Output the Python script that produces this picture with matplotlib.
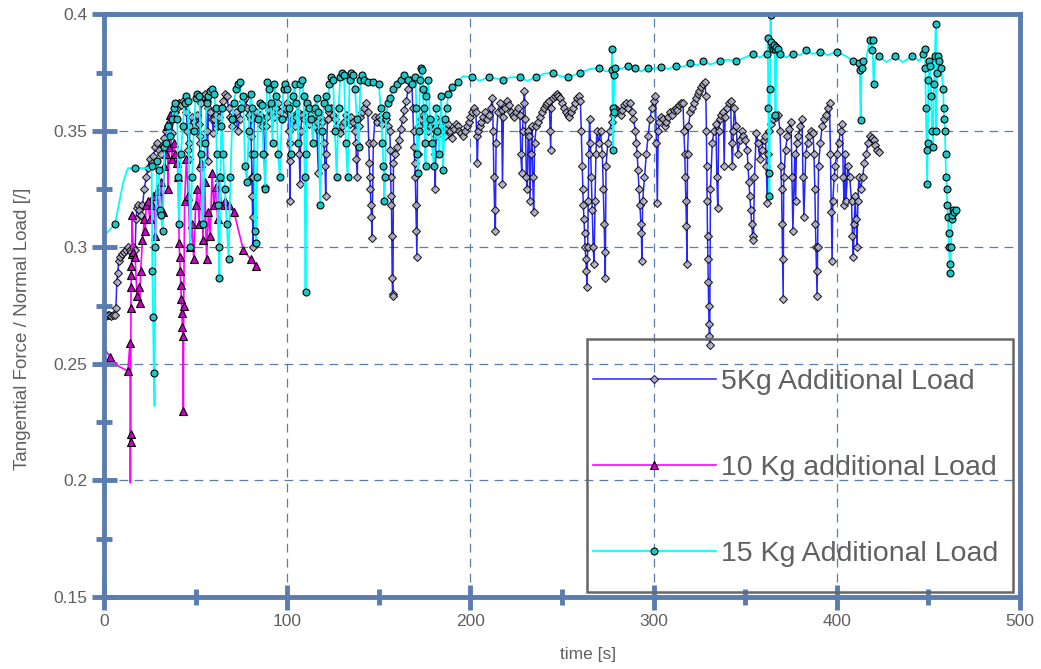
import matplotlib.pyplot as plt
from matplotlib.patches import Rectangle

plt.rcParams['font.family'] = ['Liberation Sans', 'DejaVu Sans']

# 5Kg Additional Load (blue, diamonds)
t5 = [0, 1, 2, 3, 4, 5, 6, 6.5, 7, 7.5,
      8, 9, 10, 11, 12, 13, 14, 15, 16, 17,
      17.5, 18, 18.5, 19, 20, 21, 22, 23, 24, 25,
      26, 27, 28, 29, 30, 31, 32, 33, 34, 35,
      36, 37, 38, 39, 40, 41, 42, 43, 44, 45,
      45.5, 46, 46.3, 46.6, 47, 48, 49, 50, 51, 52,
      52.2, 52.4, 52.6, 53, 54, 55, 56, 56.2, 56.5, 57,
      58, 59, 59.6, 60, 61, 62, 63, 64, 65, 66,
      67, 68, 69, 70, 71, 72, 73, 74, 75, 76,
      77, 78, 79, 80, 80.3, 80.5, 80.7, 80.9, 81.1, 81.3,
      81.5, 82, 83, 84, 85, 86, 87, 87.6, 88, 88.4,
      89, 90, 91, 92, 93, 94, 95, 96, 97, 98,
      99, 100, 101, 101.3, 101.5, 101.7, 102, 103, 104, 105,
      106, 106.6, 107, 107.4, 108, 109, 110, 111, 112, 113,
      114, 115, 116, 117, 117.4, 118, 119, 120, 120.6, 121,
      121.4, 122, 123, 124, 125, 126, 127, 128, 129, 130,
      131, 132, 133, 134, 135, 136, 137, 137.4, 137.8, 138.2,
      139, 140, 141, 142, 143, 144, 144.5, 144.8, 145.1, 145.4,
      145.7, 146, 146.3, 147, 148, 149, 150, 151, 152, 153,
      154, 155, 156, 156.3, 156.5, 156.7, 156.9, 157.1, 157.3, 157.5,
      157.7, 158, 159, 160, 161, 162, 163, 164, 165, 166,
      167, 168, 168.5, 169, 169.3, 169.6, 169.9, 170.2, 170.5, 170.8,
      171.2, 172, 173, 174, 175, 176, 177, 178, 179, 180,
      180.4, 180.8, 181.2, 182, 183, 184, 185, 186, 187, 188,
      189, 190, 191, 192, 193, 194, 195, 196, 197, 198,
      199, 200, 201, 202, 203, 203.4, 203.8, 204.2, 205, 206,
      207, 208, 209, 210, 211, 212, 212.4, 212.8, 213.2, 213.6,
      214, 215, 216, 217, 217.5, 218, 219, 220, 221, 222,
      223, 224, 225, 226, 227, 227.5, 228, 228.5, 229, 229.5,
      230, 230.5, 231, 231.5, 232, 232.5, 233, 233.5, 234, 234.5,
      235, 236, 237, 238, 239, 240, 241, 242, 243, 243.5,
      243.8, 244.2, 245, 246, 247, 248, 249, 250, 251, 252,
      253, 254, 255, 256, 257, 258, 259, 260, 260.5, 261,
      261.3, 261.6, 262, 262.3, 262.6, 263, 263.3, 263.6, 264, 264.3,
      264.6, 265, 265.5, 266, 266.5, 267, 267.5, 268, 268.5, 269,
      270, 271, 272, 272.5, 273, 273.3, 273.6, 274, 275, 276,
      277, 278, 279, 280, 281, 282, 283, 284, 285, 286,
      287, 288, 289, 290, 290.5, 291, 291.5, 292, 292.5, 293,
      293.3, 293.6, 294, 295, 296, 297, 298, 299, 300, 301,
      301.5, 302, 302.5, 303, 304, 305, 306, 307, 308, 309,
      310, 311, 312, 313, 314, 315, 316, 316.5, 317, 317.3,
      317.6, 317.9, 318.2, 318.5, 319, 320, 321, 322, 323, 324,
      325, 326, 327, 328, 328.5, 328.8, 329, 329.2, 329.4, 329.6,
      329.8, 330, 330.2, 330.4, 330.6, 331, 332, 333, 334, 334.5,
      335, 335.5, 336, 337, 338, 338.5, 339, 340, 341, 342,
      342.5, 343, 343.5, 344, 345, 346, 347, 348, 349, 350,
      351, 351.5, 352, 352.5, 353, 353.5, 354, 354.5, 355, 356,
      357, 358, 359, 360, 361, 361.5, 362, 362.5, 363, 364,
      365, 366, 367, 368, 369, 369.5, 369.8, 370.1, 370.4, 370.7,
      371, 372, 373, 374, 375, 375.5, 376, 377, 377.5, 378,
      379, 380, 381, 381.5, 382, 383, 384, 385, 386, 387,
      387.5, 388, 388.3, 388.6, 388.9, 389.2, 389.5, 390, 391, 392,
      393, 394, 395, 396, 396.5, 397, 397.4, 397.8, 398.5, 399,
      400, 401, 402, 403, 403.5, 404, 404.5, 405, 406, 407,
      408, 408.5, 409, 409.5, 410, 410.5, 411, 411.5, 412, 413,
      414, 415, 416, 417, 418, 419, 420, 421, 422, 423]
f5 = [.271, .2705, .271, .271, .2705, .271, .271, .274, .285, .289,
      .294, .296, .297, .298, .299, .300, .299, .298, .300, .299,
      .312, .317, .318, .316, .314, .318, .325, .330, .334, .338,
      .336, .339, .343, .345, .342, .340, .344, .347, .350, .352,
      .354, .349, .356, .358, .360, .362, .361, .363, .362, .358,
      .350, .342, .338, .345, .352, .356, .354, .352, .357, .353,
      .345, .334, .348, .362, .365, .366, .363, .350, .337, .360,
      .358, .355, .349, .355, .357, .352, .356, .360, .363, .366,
      .365, .360, .356, .352, .355, .358, .350, .355, .360, .363,
      .364, .360, .357, .355, .348, .340, .330, .322, .313, .300,
      .330, .356, .358, .355, .357, .352, .355, .340, .326, .352,
      .356, .359, .361, .358, .356, .360, .362, .358, .355, .357,
      .360, .362, .350, .337, .320, .345, .357, .355, .352, .356,
      .358, .340, .327, .350, .357, .355, .358, .356, .353, .357,
      .355, .352, .354, .332, .350, .356, .354, .345, .335, .322,
      .340, .355, .358, .360, .357, .355, .352, .350, .349, .352,
      .354, .357, .355, .353, .356, .354, .350, .345, .338, .330,
      .352, .356, .358, .360, .362, .358, .345, .336, .330, .325,
      .318, .313, .304, .345, .356, .354, .356, .355, .353, .356,
      .355, .352, .350, .342, .330, .322, .318, .305, .287, .280,
      .279, .336, .340, .343, .346, .351, .355, .359, .363, .368,
      .372, .371, .360, .350, .343, .336, .330, .318, .307, .296,
      .340, .352, .355, .357, .356, .353, .350, .352, .354, .351,
      .340, .325, .348, .355, .354, .352, .350, .348, .351, .353,
      .350, .347, .351, .353, .352, .350, .349, .348, .350, .352,
      .354, .356, .358, .360, .358, .348, .336, .350, .352, .354,
      .356, .358, .355, .357, .360, .364, .350, .330, .316, .307,
      .345, .358, .362, .359, .327, .356, .360, .363, .361, .358,
      .357, .356, .358, .360, .357, .340, .332, .350, .362, .367,
      .355, .330, .325, .350, .348, .320, .340, .352, .330, .315,
      .345, .352, .354, .356, .358, .360, .361, .362, .363, .350,
      .342, .360, .364, .365, .366, .365, .364, .362, .360, .358,
      .357, .356, .358, .360, .362, .364, .365, .363, .350, .335,
      .325, .318, .312, .306, .300, .295, .290, .283, .300, .320,
      .340, .355, .345, .330, .316, .300, .293, .320, .340, .350,
      .345, .350, .340, .325, .310, .298, .287, .335, .345, .350,
      .354, .357, .360, .359, .358, .357, .359, .361, .362, .360,
      .362, .358, .355, .350, .345, .340, .333, .325, .318, .310,
      .306, .294, .320, .330, .340, .348, .355, .360, .363, .365,
      .345, .319, .350, .354, .356, .355, .352, .354, .356, .358,
      .357, .359, .360, .359, .361, .362, .362, .350, .340, .330,
      .320, .309, .293, .340, .352, .358, .360, .362, .364, .366,
      .367, .369, .370, .371, .365, .350, .335, .320, .305, .295,
      .285, .275, .267, .262, .258, .325, .345, .350, .353, .330,
      .317, .350, .355, .357, .358, .335, .356, .360, .362, .363,
      .345, .335, .350, .360, .352, .340, .346, .350, .348, .346,
      .342, .335, .328, .322, .316, .310, .305, .303, .330, .349,
      .345, .338, .342, .346, .348, .335, .319, .340, .350, .353,
      .355, .357, .356, .357, .350, .335, .325, .310, .295, .278,
      .330, .342, .348, .351, .354, .330, .307, .340, .320, .345,
      .348, .352, .355, .330, .313, .340, .345, .348, .350, .349,
      .340, .325, .310, .300, .290, .279, .300, .335, .345, .352,
      .355, .357, .360, .362, .340, .315, .294, .320, .330, .335,
      .340, .345, .350, .353, .330, .318, .340, .320, .335, .330,
      .320, .305, .296, .310, .322, .312, .300, .320, .330, .325,
      .330, .336, .340, .345, .348, .347, .346, .344, .342, .341]

# 10 Kg additional Load (magenta, triangles)
t10 = [0, 3.3, 8, 13, 14.2, 14.4, 14.5, 14.6, 14.7, 14.8,
       14.9, 15.0, 15.1, 15.3, 16, 17, 18, 19, 19.5, 20,
       21, 22, 22.5, 23, 24, 25, 26, 27, 28, 29,
       30, 31, 32, 33, 34, 34.5, 35, 35.5, 36, 37,
       38, 39, 40, 40.5, 41, 41.3, 41.6, 41.9, 42.2, 42.5,
       42.8, 43.1, 43.3, 43.5, 44, 45, 46, 47, 48, 49,
       50, 51, 52, 53, 54, 55, 56, 57, 58, 59,
       60, 61, 62, 63, 64, 66, 68, 71, 76, 80,
       83]
f10 = [.257, .253, .249, .247, .259, .199, .2165, .220, .274, .283,
       .288, .292, .297, .314, .298, .296, .279, .283, .276, .290,
       .303, .312, .307, .318, .320, .312, .318, .322, .305, .324,
       .316, .328, .315, .335, .340, .352, .325, .343, .357, .338,
       .345, .340, .336, .330, .302, .296, .290, .284, .278, .272,
       .266, .262, .230, .275, .320, .338, .322, .300, .310, .295,
       .318, .325, .310, .336, .303, .328, .295, .315, .305, .332,
       .318, .326, .312, .330, .318, .320, .318, .315, .299, .295,
       .292]
t10_plain = [0, 8, 14.4]   # line-only samples (no marker)

# 15 Kg Additional Load (cyan, circles)
t15 = [0, 6, 10.5, 13, 17, 24, 26, 26.4, 26.8, 27.2,
       27.6, 28, 29, 30, 30.5, 31, 32, 33, 34, 35,
       36, 37, 38, 39, 40, 40.5, 41, 42, 43, 44,
       45, 46, 47, 48, 49, 50, 51, 52, 53, 54,
       55, 56, 57, 58, 59, 60, 61, 61.5, 62, 62.5,
       63, 63.5, 64, 64.5, 65, 66, 67, 68, 69, 70,
       71, 72, 73, 74, 75, 76, 77, 78, 79, 80,
       81, 82, 82.5, 83, 83.5, 84, 85, 86, 87, 88,
       89, 90, 91, 92, 93, 94, 95, 96, 97, 98,
       99, 100, 101, 102, 103, 104, 105, 106, 107, 108,
       109, 109.5, 110, 110.5, 111, 112, 113, 114, 115, 116,
       117, 118, 119, 120, 121, 122, 123, 124, 125, 126,
       127, 128, 129, 130, 131, 132, 133, 134, 135, 136,
       137, 138, 139, 140, 141, 142, 144, 147, 150, 151,
       152, 152.5, 153, 153.5, 154, 155, 156, 158, 160, 162,
       164, 166, 168, 170, 170.5, 171, 171.5, 172, 172.5, 173,
       173.5, 174, 174.5, 175, 175.5, 176, 177, 178, 179, 180,
       181, 182, 183, 184, 185, 186, 187, 188, 190, 193,
       196, 201, 205, 210, 214, 218, 222, 227, 231, 236,
       240, 245, 249, 253, 257, 260, 265, 270, 274, 277,
       277.3, 277.6, 277.9, 278.2, 278.5, 279, 282, 286, 290, 293,
       297, 300, 304, 308, 312, 316, 320, 324, 327, 331,
       336, 340, 345, 350, 354, 358, 361, 362, 362.3, 362.6,
       362.9, 363.2, 363.5, 363.8, 364.1, 364.5, 365, 365.5, 366, 366.5,
       367, 368, 369, 372, 376, 380, 383, 387, 391, 395,
       400, 405, 409, 412, 412.5, 413, 413.5, 414, 416, 418,
       419, 419.5, 420, 421, 423, 427, 432, 436, 441, 445,
       447, 448, 448.3, 448.6, 449, 449.3, 449.6, 450, 450.5, 451,
       451.5, 452, 452.5, 453, 453.5, 454, 454.3, 454.6, 455, 456,
       457, 458, 458.3, 458.6, 459, 459.3, 459.6, 460, 460.3, 460.6,
       461, 461.3, 461.6, 462, 462.3, 462.6, 463, 463.5, 464, 465]
f15 = [.305, .310, .328, .334, .334, .334, .335, .290, .270, .246,
       .232, .300, .337, .333, .316, .314, .307, .343, .345, .352,
       .348, .355, .360, .362, .355, .330, .310, .340, .352, .362,
       .365, .363, .300, .330, .350, .364, .366, .365, .340, .310,
       .345, .362, .365, .367, .368, .366, .360, .340, .318, .300,
       .287, .330, .352, .360, .340, .325, .310, .295, .330, .355,
       .362, .368, .370, .371, .360, .365, .335, .328, .350, .366,
       .360, .340, .307, .302, .330, .355, .362, .361, .340, .325,
       .371, .368, .362, .345, .370, .365, .340, .330, .355, .368,
       .370, .368, .360, .340, .365, .370, .362, .345, .370, .372,
       .365, .330, .281, .340, .362, .360, .355, .345, .360, .364,
       .358, .318, .350, .362, .365, .360, .370, .373, .372, .350,
       .330, .360, .373, .375, .374, .345, .330, .372, .375, .374,
       .368, .355, .343, .372, .374, .372, .371, .371, .370, .360,
       .345, .335, .320, .330, .357, .362, .364, .368, .370, .372,
       .374, .372, .370, .373, .360, .340, .332, .350, .372, .377,
       .376, .368, .360, .345, .335, .365, .372, .355, .345, .335,
       .360, .350, .340, .365, .333, .355, .360, .366, .369, .371,
       .3735, .373, .3715, .373, .3725, .372, .373, .373, .3715, .373,
       .3745, .375, .3735, .373, .374, .375, .3765, .377, .3755, .376,
       .385, .360, .342, .358, .374, .377, .3765, .378, .377, .3755,
       .377, .3765, .3775, .3765, .378, .3775, .379, .378, .380, .3785,
       .380, .3805, .380, .3815, .383, .3815, .383, .383, .390, .360,
       .332, .322, .368, .3995, .388, .386, .385, .387, .385, .357,
       .386, .385, .383, .3815, .383, .3825, .3845, .383, .384, .3825,
       .384, .382, .380, .379, .376, .3545, .377, .380, .381, .389,
       .3845, .389, .370, .381, .382, .3795, .382, .3795, .382, .380,
       .383, .385, .377, .360, .342, .327, .345, .372, .380, .378,
       .365, .350, .343, .370, .382, .396, .350, .375, .382, .380,
       .377, .368, .360, .355, .350, .340, .330, .325, .318, .313,
       .306, .300, .293, .289, .300, .312, .314, .316, .315, .316]
# line-only samples (no marker)
t15_plain = [0, 10.5, 13, 24, 27.6, 196, 205, 214, 222, 231, 240, 249, 257, 265,
             274, 282, 293, 300, 308, 316, 324, 331, 340, 350, 358, 361, 372,
             380, 387, 395, 405, 416, 421, 427, 436, 445]

labels = ['5Kg Additional Load', '10 Kg additional Load', '15 Kg Additional Load']

axis_col = '#5a7db0'
text_col = '#606060'

mk10 = [i for i, t in enumerate(t10) if t not in t10_plain]
mk15 = [i for i, t in enumerate(t15) if t not in t15_plain]

fig = plt.figure(figsize=(10.41, 6.69), dpi=100)
ax = fig.add_axes([0.0999, 0.1076, 0.880, 0.871])

l1, = ax.plot(t5, f5, color='#0000ff', lw=1.1, alpha=0.85,
              marker='D', ms=3.8, mfc=(0.7, 0.7, 0.78, 0.5), mec=(0, 0, 0, 0.8), mew=0.8)
l2, = ax.plot(t10, f10, color='#ff00ff', lw=1.2, markevery=mk10,
              marker='^', ms=6, mfc='#cc00cc', mec='black', mew=0.8)
l3, = ax.plot(t15, f15, color='#00ffff', lw=1.3, markevery=mk15,
              marker='o', ms=5, mfc='#20c4c4', mec='black', mew=0.8)

ax.set_xlim(0, 500)
ax.set_ylim(0.15, 0.4)
ax.set_xticks([0, 100, 200, 300, 400, 500])
ax.set_xticks([50, 150, 250, 350, 450], minor=True)
ax.set_yticks([0.15, 0.2, 0.25, 0.3, 0.35, 0.4])
ax.set_yticklabels(['0.15', '0.2', '0.25', '0.3', '0.35', '0.4'])
ax.set_yticks([0.175, 0.225, 0.275, 0.325, 0.375], minor=True)

for s in ax.spines.values():
    s.set_color(axis_col)
    s.set_linewidth(3.5)

ax.tick_params(which='major', direction='inout', length=18, width=3.5,
               color=axis_col, labelcolor=text_col, labelsize=12.5, pad=3)
ax.tick_params(which='minor', direction='inout', length=11, width=3.5, color=axis_col)

ax.grid(True, which='major', color=axis_col, lw=0.9, ls=(0, (7, 5)))

ax.set_xlabel('time [s]', color=text_col, fontsize=12.5)
ax.set_ylabel('Tangential Force / Normal Load [/]', color=text_col, fontsize=13.5)
ax.xaxis.set_label_coords(0.528, -0.085)
ax.yaxis.set_label_coords(-0.08, 0.461)

# legend box
ax.add_patch(Rectangle((0.527, 0.0086), 0.465, 0.435, transform=ax.transAxes,
                       fill=False, edgecolor='#666666', lw=1.8, zorder=6))
leg = ax.legend([l1, l2, l3], labels, loc='upper left', bbox_to_anchor=(0.534, 0.391),
                frameon=False, fontsize=20.5, handlelength=4.3, handletextpad=0.2,
                labelspacing=2.1, borderpad=0, borderaxespad=0, numpoints=1)
for txt in leg.get_texts():
    txt.set_color(text_col)

fig.savefig('out.png', dpi=100)
